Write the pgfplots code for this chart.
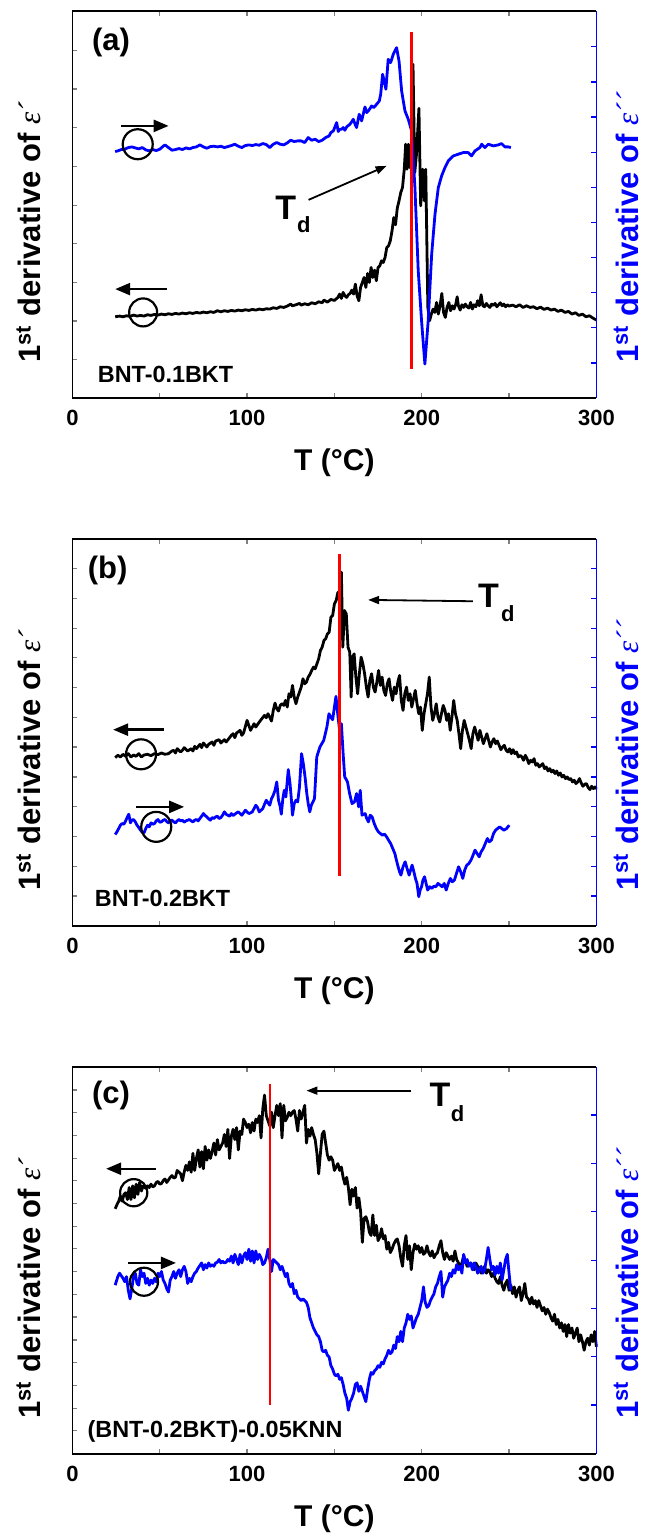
\documentclass[border=0pt]{standalone}
\usepackage{pgfplots}
\pgfplotsset{compat=1.18}
\usetikzlibrary{arrows.meta}
\usepackage{fontspec}
\setmainfont{Liberation Sans}
\newfontfamily\epsfont{Liberation Serif}
\definecolor{myblue}{RGB}{0,0,255}
\definecolor{myred}{RGB}{255,0,0}

\pgfplotsset{
  base/.style={width=262pt, height=193.5pt, scale only axis, xmin=0, xmax=300,
    y dir=reverse, tick align=inside, major tick length=2.5pt, minor tick length=2.5pt,
    clip=false, axis line style={line width=0.7pt},
    every tick/.append style={line width=0.6pt}},
  leftax/.style={base, axis x line*=box, axis y line*=left,
    xtick={0,100,200,300}, minor xtick={50,150,250},
    /pgf/number format/assume math mode=true,
    xticklabel style={font=\fontsize{11}{11}\selectfont\bfseries, anchor=center, yshift=-9.75pt},
    yticklabels={},
    xlabel={T (°C)},
    every axis x label/.style={at={(axis description cs:0.5,-0.168)}, anchor=center, font=\fontsize{15}{15}\selectfont\bfseries},
    ylabel={1\textsuperscript{st} derivative of {\epsfont\mdseries\itshape ε´}},
    every axis y label/.style={at={(axis description cs:-0.060,0.428)}, rotate=90, anchor=base, inner sep=0pt, font=\fontsize{15.5}{15.5}\selectfont\bfseries}},
  rightax/.style={base, axis x line=none, axis y line*=right, xtick=\empty, yticklabels={},
    y axis line style={myblue, line width=0.7pt}, ytick style={draw=myblue},
    ylabel={1\textsuperscript{st} derivative of {\epsfont\mdseries\itshape ε´´}},
    every axis y label/.style={at={(axis description cs:1.080,0.44)}, rotate=90, anchor=base, inner sep=0pt, font=\fontsize{15.5}{15.5}\selectfont\bfseries, text=myblue}},
  blk/.style={black, line width=1.4pt, line join=round},
  blu/.style={myblue, line width=1.4pt, line join=round},
}
\tikzset{
  lab/.style={font=\fontsize{15.5}{15.5}\selectfont\bfseries, inner sep=0pt},
  tlab/.style={font=\fontsize{17}{17}\selectfont\bfseries, inner sep=0pt},
  sub/.style={font=\fontsize{11}{11}\selectfont\bfseries, inner sep=0pt},
  samp/.style={font=\fontsize{11.7}{11.7}\selectfont\bfseries, inner sep=0pt, anchor=west},
  bigarr/.style={-{Triangle[length=7.5pt,width=6pt]}, line width=1.2pt},
  tdarr/.style={-{Triangle[length=5.5pt,width=4pt]}, line width=0.9pt},
  circ/.style={line width=1.1pt},
}

\begin{document}
\begin{tikzpicture}
% ---------------- (a) ----------------
\begin{axis}[leftax, at={(36.2pt,-5.5pt)}, anchor=north west, ymin=30, ymax=1192,
  ytick={148,264,380,497,613,729,845,961,1077}]
\addplot[blk] coordinates {(24.5,948)(27,946)(29,948)(31,945)(33,947)(35,943)(37,946)(39,944)(41,946)(43,942)(45,944)(47,941)(49,943)(51,940)(53,942)(55,939)(57,941)(59,938)(61,940)(63,937)(65,939)(67,936)(69,938)(71,935)(73,937)(75,934)(77,936)(79,933)(81,935)(83,930)(85,933)(87,930)(89,932)(91,929)(93,931)(95,928)(97,930)(99,927)(101,929)(103,926)(105,928)(107,925)(109,927)(111,924)(113,925)(115,921)(117,923)(119,918)(121,920)(123,916)(125,910)(126,915)(128,912)(130,908)(131,913)(133,909)(135,912)(137,906)(139,909)(141,903)(143,906)(144,898)(146,904)(148,896)(150,899)(152,890)(153,880)(154,893)(155,875)(156,885)(157,890)(158,882)(159,878)(160,868)(161,880)(162,850)(163,885)(164,900)(165,860)(166,845)(167,830)(168,860)(169,818)(170,845)(171,800)(172,830)(173,808)(174,840)(175,800)(176,795)(177,780)(178,785)(179,770)(180,740)(181,735)(182,720)(183,690)(184,650)(185,672)(186,622)(187,600)(188,575)(189,560)(190,505)(190.8,430)(191.6,505)(192.4,430)(193.2,500)(194.2,440)(195,190)(196,515)(197,460)(198.4,322)(199.4,615)(200.5,505)(201.5,600)(202.3,505)(203.5,920)(204.5,960)(205.5,940)(206.5,925)(207.5,935)(208.5,905)(209.5,940)(210.5,915)(211.5,878)(212.5,935)(213.5,950)(214.5,920)(215.5,905)(216.5,930)(217.5,915)(218.5,925)(219.5,910)(220.3,888)(221,915)(222,928)(223,912)(224,920)(225,910)(226,918)(227,922)(228,905)(229,925)(230,912)(231,918)(232,900)(233,915)(234,882)(235,915)(236,918)(237,908)(238,915)(239,920)(240,910)(241,914)(242,908)(243,918)(244,912)(245,906)(246,915)(247,910)(248,918)(249,912)(250,916)(252,913)(254,918)(256,912)(258,920)(260,915)(262,920)(264,918)(266,924)(268,919)(270,926)(272,922)(274,928)(276,925)(278,932)(280,928)(282,935)(284,932)(286,940)(288,936)(290,944)(292,940)(294,948)(296,945)(298,952)(300,958)};
\addplot[blu] coordinates {(24.5,452)(26,450)(28,446)(30,445)(32,440)(34,438)(36,441)(38,444)(40,440)(42,447)(44,450)(46,446)(48,449)(50,445)(52,436)(53,432)(55,440)(57,448)(59,446)(61,443)(63,446)(65,441)(67,444)(69,440)(71,438)(73,432)(75,438)(77,442)(79,437)(81,436)(83,438)(85,436)(87,440)(89,437)(91,434)(93,430)(95,436)(97,440)(99,434)(101,432)(103,434)(105,431)(107,433)(109,428)(111,431)(113,440)(115,430)(117,425)(119,430)(121,432)(123,426)(125,418)(127,422)(129,420)(131,420)(133,425)(135,410)(137,418)(139,415)(141,422)(143,418)(145,410)(147,405)(148,395)(149.4,390)(151.3,365)(152.2,392)(153,385)(154.1,385)(155,380)(156,388)(157,378)(158.9,370)(160,362)(160.8,355)(162,372)(162.7,380)(164.2,340)(165.6,360)(166.5,340)(167.5,318)(168.5,335)(169.4,330)(170.5,322)(171.3,315)(172.5,320)(174.2,310)(175.7,300)(176.5,280)(177.6,220)(178.5,240)(179.5,265)(180.8,175)(182.2,185)(183.7,160)(185.6,140)(187,180)(188.5,270)(190.4,330)(192.3,355)(194.2,390)(196.1,560)(198,810)(199.9,960)(201.8,1090)(203.7,960)(205.7,760)(207.6,640)(209.5,560)(211.4,525)(213.3,500)(215.2,480)(218.1,465)(220.9,460)(223.8,455)(226.6,455)(228.5,465)(230.5,450)(233.3,440)(234.3,430)(236.2,440)(238.1,430)(241,435)(243.8,432)(245.7,428)(247.6,438)(249.5,438)(251,440)};
\addplot[myred, line width=1.2pt] coordinates {(194.2,92)(194.2,1105)};
\node[lab] at (axis cs:22.1,125) {(a)};
\node[samp] at (axis cs:14.4,1120) {BNT-0.1BKT};
\node[tlab] at (axis cs:122.2,620) {T};
\node[sub] at (axis cs:132.5,672) {d};
\draw[tdarr] (axis cs:135.2,597) -- (axis cs:179.9,495);
\draw[bigarr] (axis cs:53.9,865) -- (axis cs:24.5,865);
\draw[circ] (axis cs:40.5,935) circle[radius=7pt];
\draw[bigarr] (axis cs:28.0,375) -- (axis cs:55.1,375);
\draw[circ] (axis cs:37.4,430) circle[radius=7.5pt];
\end{axis}
\begin{axis}[rightax, at={(36.2pt,-5.5pt)}, anchor=north west, ymin=30, ymax=1192,
  ytick={137,243,348,454,559,665,770,876,981,1087}]
\end{axis}

% ---------------- (b) ----------------
\begin{axis}[leftax, at={(36.2pt,-269.5pt)}, anchor=north west, ymin=115, ymax=1278,
  ytick={204,294,383,472,562,651,740,830,919,1009,1098,1188}]
\addplot[blk] coordinates {(24.5,772)(26,765)(27.5,770)(29,762)(30.5,768)(32,760)(33.5,770)(35,764)(36.5,768)(38,760)(39.5,770)(41,764)(43,762)(45,766)(47,760)(49,763)(51,758)(53,762)(55,760)(57,752)(58,750)(59,758)(60,745)(62,755)(63,750)(64,742)(66,752)(68,745)(69,752)(70,738)(71,745)(73,732)(74,742)(75,728)(77,740)(78,732)(80,725)(81,735)(82,722)(84,718)(85,728)(87,718)(88,725)(90,712)(91,705)(92,700)(93,712)(94,698)(96,690)(97,705)(98,698)(100,660)(101,675)(102,690)(104,670)(105,680)(107,665)(108,658)(110,645)(111,652)(112,640)(114,662)(115,630)(116,608)(117,625)(118,632)(119,615)(120,610)(121,615)(122,600)(123,620)(124,580)(125,590)(126,555)(127,590)(128,610)(129,590)(130,575)(131,560)(132,535)(133,550)(134,545)(135,530)(136,522)(137,510)(138,500)(139,505)(140,490)(141,475)(142,450)(143,440)(144,420)(145,415)(146,400)(147,395)(148,350)(149,345)(150,310)(151,300)(152,275)(153,300)(154,215)(154.8,440)(155.8,330)(156.8,340)(157.8,440)(158.8,455)(159.6,590)(160.4,470)(161.3,460)(162.3,530)(163.3,580)(164.3,520)(165.3,470)(166.3,490)(167.3,520)(168.3,560)(169.3,590)(170.3,540)(171.3,520)(172.3,560)(173.3,575)(174.3,545)(175.3,510)(176.3,555)(177.3,530)(178.3,570)(179.3,585)(180.3,550)(181.3,535)(182.3,575)(183.3,600)(184.3,560)(185.3,580)(186.3,545)(187.3,525)(188.3,600)(189.3,630)(190.3,580)(191.3,560)(192.3,600)(193.3,580)(194.3,620)(195.3,595)(196.3,570)(197.3,610)(198.3,640)(199.3,620)(200.3,690)(201.3,640)(202.3,610)(203.3,580)(204.3,530)(205.3,620)(206.3,660)(207.3,640)(208.3,610)(209.3,650)(210.3,665)(211.3,640)(212.3,615)(213.3,630)(214.3,660)(215.3,640)(216.3,690)(217.3,650)(218.3,600)(219.3,640)(220.3,660)(221.3,700)(222.3,745)(223.3,690)(224.3,660)(225.3,680)(226.3,700)(227.3,720)(228.3,745)(229.3,700)(230.3,680)(231.3,700)(232.3,720)(233.3,690)(234.3,710)(235.3,730)(236.3,715)(237.3,700)(238.3,720)(239.3,740)(240.3,725)(241.3,715)(242.3,730)(243.3,722)(244.3,735)(245.3,748)(246.3,740)(247.3,735)(248.3,750)(249.3,755)(250.3,745)(251.3,760)(252.3,748)(253.3,760)(254.3,755)(255.3,770)(256.3,765)(257.3,770)(258.3,780)(259.3,765)(260.3,775)(261.3,790)(262.3,780)(263.3,785)(264.3,775)(265.3,795)(266.3,790)(267.3,800)(268.3,795)(269.3,790)(270.3,805)(271.3,800)(272.3,812)(273.3,805)(274.3,815)(275.3,810)(276.3,820)(277.3,812)(278.3,825)(279.3,818)(280.3,830)(281.3,825)(282.3,835)(283.3,830)(284.3,838)(285.3,835)(286.3,845)(287.3,840)(288.3,850)(289.3,845)(290.3,835)(291.3,848)(292.3,858)(293.3,852)(294.3,850)(295.3,862)(296.3,868)(297.3,858)(298.3,865)(299.3,860)(300,866)};
\addplot[blu] coordinates {(24.5,1003)(25.5,995)(26.5,985)(27.5,975)(28.5,970)(29.5,972)(30.5,962)(31.5,950)(32.3,942)(33.2,968)(34,960)(35,958)(36,965)(37,975)(38,982)(39,990)(40,996)(41,998)(42,985)(43,975)(44,980)(45,968)(46,972)(47,970)(48,962)(49,958)(50,966)(51,965)(52,960)(53,958)(54,964)(55,968)(56,960)(57,960)(58,965)(59,968)(60,962)(61,958)(62,962)(63,960)(64,966)(65,962)(66,960)(67,958)(68,962)(69,965)(70,960)(71,958)(72,962)(73,955)(74,948)(75,940)(76,946)(77,950)(78,956)(79,960)(80,952)(81,955)(82,950)(83,948)(84,955)(85,952)(86,945)(87,935)(88,942)(89,945)(90,948)(91,940)(92,946)(93,942)(94,938)(95,935)(96,940)(97,945)(98,938)(99,930)(100,935)(101,940)(102,938)(103,935)(104,925)(105,915)(106,922)(107,935)(108,930)(109,925)(110,912)(111,900)(112,908)(113,915)(114,895)(115,885)(116,870)(117,845)(118,900)(119,920)(119.6,942)(120.5,895)(121.3,870)(122.2,890)(123.6,808)(124.6,850)(125.4,900)(126,945)(127,910)(128,900)(129,905)(130,860)(131.2,760)(132.2,790)(133.2,830)(134.2,880)(135,910)(135.9,935)(136.8,915)(137.7,905)(138.6,895)(139.9,770)(141.7,740)(142.8,730)(143.9,720)(144.8,700)(145.7,680)(146.9,640)(147.9,650)(149,658)(150,620)(150.9,588)(152.1,650)(153,690)(154,670)(155,760)(155.9,830)(156.8,838)(157.5,845)(158.7,880)(160.1,910)(161.5,905)(162.7,880)(163.9,920)(164.8,870)(165.8,945)(167.6,940)(168.5,955)(169.5,965)(170.5,945)(171.6,950)(172.8,970)(174,985)(175.2,995)(176.3,1000)(177.5,1005)(178.7,1002)(179.9,1010)(181,1020)(182.2,1030)(183.4,1045)(184.6,1060)(185.5,1080)(186.5,1100)(187.3,1115)(188.1,1125)(189.3,1100)(190.5,1085)(191.6,1105)(192.8,1125)(193.6,1110)(194.5,1095)(195.5,1115)(196.4,1135)(197.3,1150)(198.3,1190)(199.1,1170)(199.9,1160)(200.7,1140)(201.6,1130)(202.5,1150)(203.4,1170)(204.6,1160)(205.8,1165)(207,1158)(208.1,1160)(209.3,1150)(210.5,1155)(211.7,1160)(212.9,1150)(214,1170)(215.2,1150)(216.4,1135)(217.5,1145)(218.7,1140)(219.9,1120)(221.1,1100)(222.3,1115)(223.5,1135)(224.6,1110)(225.8,1095)(227,1090)(228.2,1080)(229.4,1065)(230.5,1050)(231.7,1060)(232.9,1070)(234,1055)(235.2,1045)(236.4,1030)(237.6,1015)(238.7,1025)(239.9,1020)(241.1,1000)(242.3,990)(243.4,985)(244.6,980)(245.8,985)(247,990)(248.6,985)(250.1,975)};
\addplot[myred, line width=1.2pt] coordinates {(153,160)(153,1128)};
\node[lab] at (axis cs:20.2,210) {(b)};
\node[samp] at (axis cs:12.7,1195) {BNT-0.2BKT};
\node[tlab] at (axis cs:238.3,285) {T};
\node[sub] at (axis cs:249.3,340) {d};
\draw[tdarr] (axis cs:229.3,302) -- (axis cs:169.3,298);
\draw[bigarr] (axis cs:52.3,688) -- (axis cs:23.3,688);
\draw[circ] (axis cs:39.3,762) circle[radius=7.5pt];
\draw[bigarr] (axis cs:36.3,920) -- (axis cs:64.0,920);
\draw[circ] (axis cs:48.0,980) circle[radius=7.5pt];
\end{axis}
\begin{axis}[rightax, at={(36.2pt,-269.5pt)}, anchor=north west, ymin=115, ymax=1278,
  ytick={204,294,383,472,562,651,740,830,919,1009,1098,1188}]
\end{axis}

% ---------------- (c) ----------------
\begin{axis}[leftax, at={(36.2pt,-533.5pt)}, anchor=north west, ymin=198, ymax=1328,
  ytick={265,331,398,464,530,597,663,729,796,862,928,995,1061,1127,1194,1260}]
\addplot[blk] coordinates {(24.5,612)(25.5,600)(26.5,590)(27.5,575)(28.5,590)(29.5,570)(30.5,565)(31.5,585)(32.5,550)(33.5,585)(34.5,545)(35.5,580)(36.5,540)(37.5,570)(38.5,535)(39.5,560)(40.5,545)(42,552)(43,545)(44,550)(45,540)(46,548)(47,545)(48,535)(49,532)(50,540)(51,538)(52,530)(53,525)(54,535)(55,528)(56,520)(57,515)(58,522)(59,520)(60,500)(61,505)(62,510)(63,530)(64,505)(65,485)(66,500)(67,475)(68,505)(69,450)(70,500)(71,465)(72,440)(73,490)(74,445)(75,495)(76,430)(77,470)(78,440)(79,465)(80,445)(81,420)(82,455)(83,410)(84,440)(85,430)(86,420)(87,395)(88,430)(89,380)(90,465)(91,400)(92,380)(93,410)(94,375)(95,440)(96,385)(97,395)(98,350)(99,360)(100,375)(101,365)(102,390)(103,360)(104,385)(105,350)(106,360)(107,340)(108,405)(109,320)(110,280)(111,340)(112,355)(113,370)(114,330)(115,375)(116,340)(117,310)(118,340)(119,305)(120,405)(121,310)(122,355)(123,345)(124,330)(125,340)(126,330)(127,325)(128,350)(129,385)(130,325)(131,350)(132,330)(133,310)(134,420)(135,380)(136,400)(137,375)(138,395)(139,410)(140,450)(141,510)(142,450)(143,395)(144,385)(145,420)(146,455)(147,470)(148,460)(149,470)(150,500)(151,490)(152,480)(153,500)(154,490)(155,520)(156,540)(157,520)(158,550)(159,600)(160,555)(161,575)(162,550)(163,610)(164,580)(165,620)(166,710)(167,640)(168,635)(169,650)(170,680)(171,690)(172,630)(173,690)(174,660)(175,705)(176,695)(177,670)(178,700)(179,690)(180,730)(181,710)(182,740)(183,730)(184,715)(185,705)(186,700)(187,720)(188,755)(189,780)(190,720)(191,690)(192,760)(193,720)(194,790)(195,740)(196,715)(197,730)(198,720)(199,740)(200,725)(201,745)(202,740)(203,720)(204,740)(205,750)(206,735)(207,755)(208,745)(209,740)(210,720)(211,705)(212,740)(213,760)(214,740)(215,750)(216,760)(217,750)(218,765)(219,735)(220,760)(221,770)(222,780)(223,770)(224,750)(225,765)(226,780)(227,775)(228,770)(229,780)(230,790)(231,770)(232,780)(233,785)(234,800)(235,790)(236,780)(237,800)(238,790)(239,795)(240,810)(241,800)(242,815)(243,825)(244,830)(245,810)(246,835)(247,850)(248,830)(249,820)(250,850)(251,835)(252,860)(253,840)(254,870)(255,850)(256,840)(257,880)(258,860)(259,830)(260,870)(261,875)(262,890)(263,870)(264,890)(265,880)(266,900)(267,880)(268,895)(269,910)(270,900)(271,920)(272,905)(273,915)(274,930)(275,940)(276,920)(277,950)(278,935)(279,960)(280,945)(281,970)(282,950)(283,985)(284,950)(285,975)(286,960)(287,990)(288,975)(289,960)(290,1000)(291,980)(292,1000)(293,1025)(294,1000)(295,990)(296,1010)(297,980)(298,1000)(299,970)(300,1015)};
\addplot[blu] coordinates {(24.5,835)(26,810)(27,800)(29,815)(30,825)(31,810)(32,850)(33,875)(34,845)(35,810)(36,800)(37,830)(38,835)(39,790)(40,810)(41,800)(42,830)(43,815)(44,835)(45,820)(46,830)(47,815)(48,825)(49,800)(50,810)(51,795)(52,820)(53,830)(54,845)(55,855)(56,820)(57,810)(58,795)(59,815)(60,800)(61,790)(62,810)(63,790)(64,780)(65,795)(66,830)(67,815)(68,825)(69,810)(70,800)(71,795)(72,785)(74,770)(75,790)(76,775)(77,785)(78,770)(79,780)(80,775)(81,780)(82,770)(83,768)(84,760)(85,770)(86,765)(87,770)(88,768)(89,760)(90,765)(91,750)(92,770)(93,745)(94,760)(95,775)(96,745)(97,770)(98,750)(99,740)(100,760)(101,730)(102,765)(103,735)(104,770)(105,735)(106,760)(107,745)(108,755)(109,775)(110,770)(111,755)(112,730)(113,760)(114,795)(115,760)(116,765)(117,770)(118,775)(119,790)(120,780)(121,795)(122,810)(123,800)(124,830)(125,840)(126,830)(127,860)(128,850)(129,870)(130,875)(131,880)(132,875)(133,880)(134,885)(135,900)(136,930)(137,945)(138,960)(139,970)(140,980)(141,985)(142,1000)(143,1025)(144,1030)(145,1025)(146,1040)(147,1045)(148,1070)(149,1080)(150,1095)(151,1100)(152,1095)(153,1110)(154,1105)(155,1125)(156,1150)(157,1165)(158,1200)(159,1175)(160,1165)(161,1150)(162,1125)(163,1120)(164,1145)(165,1130)(166,1145)(167,1160)(168,1175)(169,1140)(170,1110)(171,1090)(172,1095)(173,1085)(174,1080)(175,1070)(176,1075)(177,1060)(178,1065)(179,1050)(180,1040)(181,1025)(182,1035)(183,1030)(184,1010)(185,1020)(186,985)(187,1000)(188,970)(189,1000)(190,960)(191,945)(192,920)(193,935)(194,925)(195,960)(196,945)(197,930)(198,920)(199,900)(200,880)(201,840)(202,885)(203,900)(204,895)(205,880)(206,870)(207,860)(208,840)(209,830)(210,810)(211,795)(212,870)(213,840)(214,830)(215,820)(216,800)(217,810)(218,790)(219,800)(220,775)(221,790)(222,780)(223,800)(224,745)(225,770)(226,760)(227,780)(228,770)(229,790)(230,770)(231,780)(232,800)(233,790)(234,780)(235,800)(236,790)(237,760)(238,725)(239,760)(240,790)(241,780)(242,805)(243,780)(244,800)(245,770)(246,820)(247,790)(248,760)(249,745)(250,800)(251,850)};
\addplot[myred, line width=1.2pt] coordinates {(113.3,248)(113.3,1185)};
\node[lab] at (axis cs:22.1,280) {(c)};
\node[samp] at (axis cs:8.5,1262) {(BNT-0.2BKT)-0.05KNN};
\node[tlab] at (axis cs:210.5,280) {T};
\node[sub] at (axis cs:220.5,335) {d};
\draw[tdarr] (axis cs:194,267) -- (axis cs:134,267);
\draw[bigarr] (axis cs:48.0,495) -- (axis cs:19.3,495);
\draw[circ] (axis cs:35.1,565) circle[radius=6.8pt];
\draw[bigarr] (axis cs:32.0,770) -- (axis cs:59.3,770);
\draw[circ] (axis cs:41.0,825) circle[radius=7pt];
\end{axis}
\begin{axis}[rightax, at={(36.2pt,-533.5pt)}, anchor=north west, ymin=198, ymax=1328,
  ytick={338,479,620,762,903,1044,1185}]
\end{axis}

\pgfresetboundingbox
\path (0,0) rectangle (322.5pt,-768.5pt);
\end{tikzpicture}
\end{document}
